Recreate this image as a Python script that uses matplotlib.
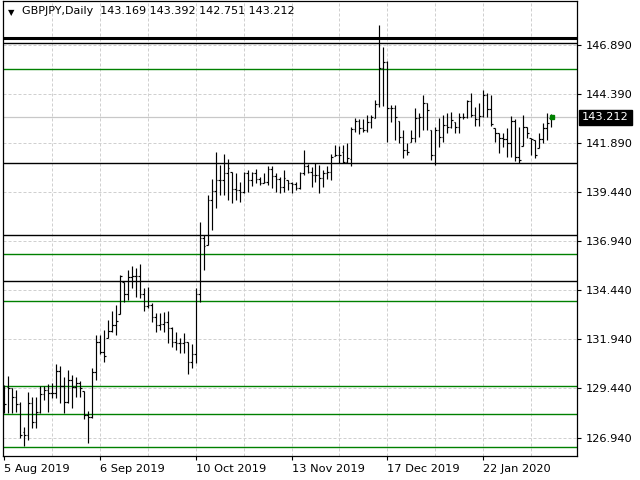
import numpy as np
import pandas as pd
import matplotlib
matplotlib.use("Agg")
import matplotlib.pyplot as plt
import matplotlib.transforms as mtransforms

SYMBOL = "GBPJPY,Daily"

# daily bars, 5 Aug 2019 .. 14 Feb 2020 (no bars on 25 Dec and 1 Jan)
dates = pd.bdate_range("2019-08-05", "2020-02-14")
dates = dates[~dates.isin(pd.to_datetime(["2019-12-25", "2020-01-01"]))]

opens = [129.11, 129.50, 129.45, 128.99, 128.65, 127.21, 127.07, 128.72, 127.74, 128.23,
         129.14, 129.36, 129.22, 129.22, 130.33, 129.56, 128.77, 129.87, 129.53, 129.74,
         129.33, 128.09, 128.01, 130.26, 131.79, 131.28, 131.99, 132.34, 132.66, 133.21,
         134.86, 134.24, 135.09, 135.17, 135.17, 134.22, 133.64, 133.68, 133.09, 132.66,
         132.70, 132.83, 132.50, 131.82, 131.76, 131.76, 131.78, 130.78, 131.19, 134.22,
         137.07, 136.73, 139.02, 139.49, 140.03, 140.03, 140.37, 140.45, 139.56, 139.52,
         139.44, 140.37, 140.03, 140.37, 140.07, 139.89, 139.94, 140.57, 140.23, 140.07,
         139.69, 140.03, 139.89, 139.81, 139.61, 140.40, 140.74, 140.45, 140.29, 140.29,
         140.12, 140.40, 140.45, 141.25, 141.30, 141.47, 140.96, 141.10, 142.61, 143.03,
         142.66, 142.57, 142.96, 143.20, 143.88, 145.74, 146.04, 143.67, 143.67, 143.03,
         142.23, 141.56, 141.98, 142.18, 143.17, 143.25, 143.93, 142.57, 141.33, 142.60,
         142.23, 142.83, 142.74, 142.99, 142.74, 143.25, 143.22, 144.06, 143.35, 143.12,
         143.28, 144.35, 143.62, 142.69, 142.40, 142.15, 142.10, 141.90, 143.04, 141.18,
         141.76, 142.74, 142.15, 142.06, 141.64, 142.10, 142.66, 143.169]
highs = [129.61, 130.07, 129.45, 129.36, 128.77, 127.50, 129.27, 129.02, 129.02, 129.56,
         129.56, 129.67, 129.73, 130.68, 130.60, 130.01, 130.38, 130.12, 130.04, 129.82,
         129.33, 128.29, 130.48, 132.16, 132.16, 132.41, 132.92, 133.38, 133.68, 135.20,
         134.86, 135.46, 135.66, 135.58, 135.75, 134.56, 134.61, 133.77, 133.26, 133.27,
         133.34, 133.38, 132.58, 132.32, 131.99, 132.27, 131.82, 131.70, 134.53, 137.91,
         137.24, 139.27, 140.07, 141.47, 140.79, 141.35, 141.08, 140.45, 140.37, 139.94,
         140.45, 140.54, 140.45, 140.57, 140.20, 140.37, 140.74, 140.74, 140.37, 140.20,
         140.54, 140.03, 139.94, 139.94, 140.45, 141.56, 140.84, 140.71, 140.88, 140.79,
         140.54, 140.74, 141.35, 141.81, 141.76, 141.81, 141.90, 142.74, 143.20, 143.13,
         143.13, 143.33, 143.33, 144.10, 147.91, 146.80, 146.08, 143.84, 143.84, 143.03,
         142.57, 141.90, 142.57, 143.67, 143.42, 144.35, 143.93, 142.57, 142.74, 143.17,
         143.33, 143.42, 143.50, 142.99, 143.42, 143.42, 144.10, 144.47, 143.76, 143.96,
         144.60, 144.44, 144.35, 142.69, 142.40, 142.40, 142.66, 143.28, 143.12, 142.74,
         143.33, 142.74, 142.15, 142.06, 142.40, 142.91, 143.42, 143.392]
lows = [128.18, 128.18, 128.21, 128.26, 126.94, 126.53, 126.82, 127.45, 127.45, 128.21,
        128.85, 128.26, 128.94, 128.94, 128.69, 128.18, 128.69, 128.46, 129.02, 129.02,
        127.87, 126.68, 127.92, 129.87, 131.18, 130.80, 131.99, 132.29, 132.16, 133.21,
        133.85, 133.93, 134.53, 134.10, 134.05, 133.38, 133.51, 132.83, 132.32, 132.41,
        132.32, 131.76, 131.56, 131.39, 131.23, 131.26, 130.17, 130.48, 130.72, 133.85,
        135.46, 136.73, 137.47, 138.59, 139.27, 139.27, 139.02, 138.85, 139.02, 138.93,
        139.36, 139.44, 139.73, 139.89, 139.78, 139.86, 139.78, 139.61, 139.44, 139.36,
        139.44, 139.52, 139.39, 139.52, 139.56, 140.29, 140.37, 139.69, 139.94, 139.36,
        139.69, 140.07, 140.03, 141.25, 140.91, 140.91, 140.88, 140.76, 142.46, 142.35,
        142.46, 142.49, 142.69, 143.20, 143.76, 143.81, 141.98, 142.99, 142.06, 141.90,
        141.13, 141.30, 141.98, 141.98, 142.23, 142.57, 142.57, 141.05, 140.79, 141.72,
        141.98, 142.40, 142.66, 142.40, 142.40, 143.12, 143.17, 143.25, 142.77, 142.77,
        143.25, 143.22, 142.77, 141.98, 141.39, 141.72, 141.22, 141.22, 141.01, 140.88,
        141.76, 142.15, 141.30, 141.13, 141.64, 141.93, 142.06, 142.751]
closes = [128.65, 129.45, 128.99, 128.65, 127.07, 127.07, 128.72, 127.74, 128.23, 129.14,
          129.36, 129.22, 129.22, 130.33, 129.56, 128.77, 129.87, 129.53, 129.74, 129.49,
          128.09, 128.01, 130.26, 131.79, 131.28, 131.09, 132.34, 132.66, 132.87, 135.15,
          134.24, 135.09, 135.17, 135.17, 134.22, 133.64, 133.68, 133.09, 132.66, 132.70,
          132.83, 132.50, 131.82, 131.76, 131.76, 131.78, 130.78, 131.19, 134.22, 137.07,
          136.68, 139.02, 139.49, 140.03, 140.03, 140.37, 140.66, 139.56, 139.52, 139.44,
          140.37, 140.03, 140.37, 140.07, 139.89, 139.94, 140.57, 140.23, 140.07, 139.69,
          140.12, 139.89, 139.81, 139.61, 140.40, 140.74, 140.45, 140.29, 140.29, 140.12,
          140.40, 140.45, 141.22, 141.30, 141.30, 140.96, 141.13, 142.61, 143.03, 142.66,
          142.57, 142.96, 143.25, 143.88, 145.74, 146.04, 143.67, 143.67, 143.25, 142.23,
          141.56, 141.47, 142.18, 143.17, 143.25, 143.93, 143.59, 141.33, 142.60, 142.23,
          142.83, 142.74, 143.08, 142.74, 143.25, 143.22, 144.06, 143.35, 143.12, 143.28,
          144.35, 143.62, 142.88, 142.43, 142.15, 142.10, 141.90, 143.04, 141.18, 141.05,
          142.74, 142.40, 142.10, 141.30, 142.10, 142.66, 142.94, 143.212]

# price scale labels on the right
price_ticks = [146.890, 144.390, 141.890, 139.440, 136.940, 134.440, 131.940, 129.440, 126.940]
date_labels = ["2019-08-05", "2019-09-06", "2019-10-10", "2019-11-13", "2019-12-17", "2020-01-22"]

# horizontal levels drawn on the chart
black_levels = [146.98, 140.88, 137.22, 134.88]
thick_level = 147.26
green_levels = [145.66, 136.26, 133.87, 129.59, 128.13, 126.47]

GRID = "#d0d0d0"
GREEN = "#008000"

fig = plt.figure(figsize=(6.4, 4.8), dpi=100)
ax = fig.add_axes([3 / 640, 24 / 480, 573.5 / 640, 455 / 480])

x = np.arange(len(closes))
ax.set_xlim(-0.3, 143.4)
ax.set_ylim(126.01, 149.13)

# grid
for v in price_ticks:
    ax.axhline(v, color=GRID, lw=0.72, dashes=(3, 2), zorder=0)
for i in range(12, len(x), 12):
    ax.axvline(i, color=GRID, lw=0.72, dashes=(3, 2), zorder=0)

# bid line
ax.axhline(closes[-1], color="#c8c8c8", lw=0.9, zorder=1)

# levels
for v in black_levels:
    ax.axhline(v, color="black", lw=1.0, zorder=2)
ax.axhline(thick_level, color="black", lw=2.2, zorder=2)
for v in green_levels:
    ax.axhline(v, color=GREEN, lw=1.0, zorder=2)

# OHLC bars
w = 0.4
ax.vlines(x, lows, highs, color="black", lw=0.85, zorder=3)
ax.hlines(opens, x - w, x, color="black", lw=0.85, zorder=3)
ax.hlines(closes, x, x + w, color="black", lw=0.85, zorder=3)
ax.plot(x[-1] + 0.2, closes[-1], "s", color=GREEN, ms=2.5, zorder=4)

# axes styling
for s in ax.spines.values():
    s.set_color("black")
    s.set_linewidth(0.9)

ax.yaxis.tick_right()
ax.set_yticks(price_ticks)
ax.set_yticklabels([f"{v:.3f}" for v in price_ticks])
ax.tick_params(axis="y", direction="out", length=3, width=0.8, pad=4, labelsize=8.2, colors="black")

tick_idx = [dates.get_loc(pd.Timestamp(d)) for d in date_labels]
ax.set_xticks(tick_idx)
ax.set_xticklabels([pd.Timestamp(d).strftime("%-d %b %Y") for d in date_labels], ha="left")
ax.tick_params(axis="x", direction="out", length=3, width=0.8, pad=3, labelsize=8.2, colors="black")

# current price label
trans = mtransforms.blended_transform_factory(ax.transAxes, ax.transData)
ax.text(1.01, closes[-1], f"{closes[-1]:.3f}", transform=trans, color="white", fontsize=8.2,
        va="center", ha="left",
        bbox=dict(boxstyle="square,pad=0.25", fc="black", ec="black"))

# header
ax.text(0.008, 0.985, "\u25bc", transform=ax.transAxes, fontsize=6, va="top", ha="left")
ax.text(0.033, 0.988,
        f"{SYMBOL}  {opens[-1]:.3f} {highs[-1]:.3f} {lows[-1]:.3f} {closes[-1]:.3f}",
        transform=ax.transAxes, fontsize=8, va="top", ha="left")

fig.savefig("out.png", dpi=100)
